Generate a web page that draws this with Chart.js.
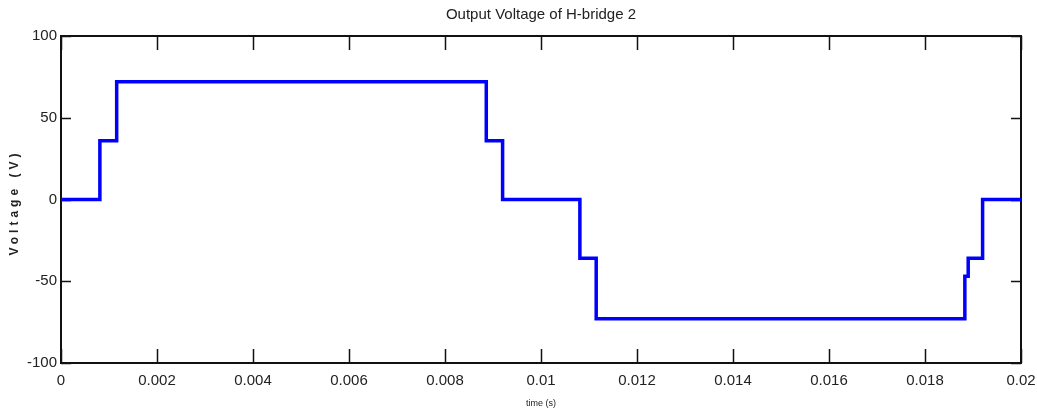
<!DOCTYPE html>
<html>
<head>
<meta charset="utf-8">
<script src="https://cdn.jsdelivr.net/npm/chart.js@4"></script>
<style>
  html, body { margin: 0; padding: 0; background: #fff; }
  canvas { display: block; }
</style>
</head>
<body>
<canvas id="chart" width="1037" height="414"></canvas>
<script>
// step waveform, two points per edge
const times = [0, 0.00081, 0.00081, 0.00116, 0.00116, 0.00886, 0.00886, 0.0092, 0.0092,
  0.01081, 0.01081, 0.01115, 0.01115, 0.01883, 0.01883, 0.0189, 0.0189, 0.0192, 0.0192, 0.02];
const volts = [0, 0, 36, 36, 72, 72, 36, 36, 0,
  0, -36, -36, -73, -73, -47, -47, -36, -36, 0, 0];

const xTicks = [0, 0.002, 0.004, 0.006, 0.008, 0.01, 0.012, 0.014, 0.016, 0.018, 0.02];
const yTicks = [-100, -50, 0, 50, 100];

const font = "'Liberation Sans', Arial, sans-serif";
const yTitle = "Voltage (V)";

// matlab style box with inward ticks on every side, plus the spaced y label
const boxTicks = {
  id: "boxTicks",
  beforeDatasetsDraw(chart) {
    const { ctx, chartArea: a, scales } = chart;
    ctx.save();
    ctx.strokeStyle = "#111";
    ctx.lineWidth = 1.5;
    ctx.beginPath();
    xTicks.forEach(v => {
      const x = Math.round(scales.x.getPixelForValue(v)) + 0.5;
      ctx.moveTo(x, a.bottom); ctx.lineTo(x, a.bottom - 14);
      ctx.moveTo(x, a.top); ctx.lineTo(x, a.top + 14);
    });
    yTicks.forEach(v => {
      const y = Math.round(scales.y.getPixelForValue(v)) + 0.5;
      ctx.moveTo(a.left, y); ctx.lineTo(a.left + 10, y);
      ctx.moveTo(a.right, y); ctx.lineTo(a.right - 10, y);
    });
    ctx.stroke();
    ctx.lineWidth = 2;
    ctx.strokeRect(a.left, a.top, a.right - a.left, a.bottom - a.top);

    ctx.translate(15, (a.top + a.bottom) / 2 + 3);
    ctx.rotate(-Math.PI / 2);
    ctx.fillStyle = "#222";
    ctx.font = "bold 12px " + font;
    ctx.letterSpacing = "4px";
    ctx.textAlign = "center";
    ctx.textBaseline = "middle";
    ctx.fillText(yTitle, 0, 0);
    ctx.restore();
  }
};

new Chart(document.getElementById("chart"), {
  type: "scatter",
  data: {
    datasets: [{
      data: times.map((t, i) => ({ x: t, y: volts[i] })),
      showLine: true,
      borderColor: "#0000ff",
      borderWidth: 3.5,
      pointRadius: 0,
      fill: false,
      tension: 0
    }]
  },
  options: {
    responsive: false,
    animation: false,
    events: [],
    layout: { padding: { left: 0, right: 16, top: 0, bottom: 0 } },
    plugins: {
      legend: { display: false },
      tooltip: { enabled: false },
      title: {
        display: true,
        fullSize: false,
        text: "Output Voltage of H-bridge 2",
        color: "#222",
        font: { family: font, size: 15, weight: "normal" },
        padding: { top: 6, bottom: 12 }
      }
    },
    scales: {
      x: {
        type: "linear",
        min: 0,
        max: 0.02,
        afterFit: s => { s.height = 51; s.paddingLeft = 0; s.paddingRight = 0; },
        afterBuildTicks: s => { s.ticks = xTicks.map(v => ({ value: v })); },
        grid: { display: false, drawTicks: false },
        border: { display: false },
        ticks: {
          padding: 9,
          color: "#222",
          maxRotation: 0,
          font: { family: font, size: 15 },
          callback: v => String(parseFloat(v.toFixed(3)))
        },
        title: {
          display: true,
          text: "time (s)",
          color: "#222",
          font: { family: font, size: 9 },
          padding: { top: 0, bottom: 5 }
        }
      },
      y: {
        min: -100,
        max: 100,
        afterFit: s => { s.width = 61; },
        afterBuildTicks: s => { s.ticks = yTicks.map(v => ({ value: v })); },
        grid: { display: false, drawTicks: false },
        border: { display: false },
        ticks: {
          padding: 4,
          color: "#222",
          font: { family: font, size: 15 }
        }
      }
    }
  },
  plugins: [boxTicks]
});
</script>
</body>
</html>
